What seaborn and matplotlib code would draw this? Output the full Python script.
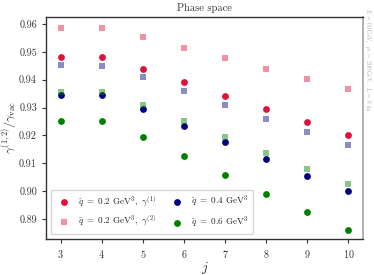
import matplotlib
matplotlib.use("Agg")
import matplotlib.pyplot as plt
import seaborn as sns
import numpy as np

j = [3, 4, 5, 6, 7, 8, 9, 10]
g1_q02 = [0.9482, 0.9481, 0.9440, 0.9392, 0.9343, 0.9295, 0.9247, 0.9202]
g2_q02 = [0.9587, 0.9586, 0.9554, 0.9515, 0.9477, 0.9438, 0.9401, 0.9366]
g1_q04 = [0.9345, 0.9345, 0.9295, 0.9235, 0.9175, 0.9115, 0.9055, 0.9001]
g2_q04 = [0.9453, 0.9450, 0.9409, 0.9360, 0.9309, 0.9260, 0.9213, 0.9166]
g1_q06 = [0.9253, 0.9253, 0.9196, 0.9127, 0.9059, 0.8991, 0.8926, 0.8862]
g2_q06 = [0.9357, 0.9357, 0.9308, 0.9251, 0.9193, 0.9136, 0.9081, 0.9027]

sns.set_style("ticks")
plt.rcParams['font.family'] = 'serif'
plt.rcParams['font.serif'] = ['cmr10', 'DejaVu Serif']
plt.rcParams['mathtext.fontset'] = 'cm'
plt.rcParams['axes.formatter.use_mathtext'] = True

fig = plt.figure(figsize=(3.74, 2.75), dpi=100)
ax = fig.add_axes([0.123, 0.131, 0.848, 0.807])

red = '#e0103a'
navy = '#000080'
green = '#008000'

s_c = 24
s_s = 24
sns.scatterplot(x=j, y=g1_q02, ax=ax, color=red, marker='o', s=s_c, linewidth=0,
                label=r'$\hat{q}\ =\ 0.2\ \mathrm{GeV}^3,\ \gamma^{(1)}$')
sns.scatterplot(x=j, y=g2_q02, ax=ax, color=red, alpha=0.45, marker='s', s=s_s, linewidth=0,
                label=r'$\hat{q}\ =\ 0.2\ \mathrm{GeV}^3,\ \gamma^{(2)}$')
sns.scatterplot(x=j, y=g2_q04, ax=ax, color=navy, alpha=0.45, marker='s', s=s_s, linewidth=0)
sns.scatterplot(x=j, y=g1_q04, ax=ax, color=navy, marker='o', s=s_c, linewidth=0,
                label=r'$\hat{q}\ =\ 0.4\ \mathrm{GeV}^3$')
sns.scatterplot(x=j, y=g2_q06, ax=ax, color=green, alpha=0.45, marker='s', s=s_s, linewidth=0)
sns.scatterplot(x=j, y=g1_q06, ax=ax, color=green, marker='o', s=s_c, linewidth=0,
                label=r'$\hat{q}\ =\ 0.6\ \mathrm{GeV}^3$')

ax.set_xlim(2.64, 10.36)
ax.set_ylim(0.8828, 0.9625)
ax.set_xticks(j)
ax.set_yticks([0.89, 0.90, 0.91, 0.92, 0.93, 0.94, 0.95, 0.96])
ax.set_yticklabels(['0.89', '0.90', '0.91', '0.92', '0.93', '0.94', '0.95', '0.96'])
ax.tick_params(labelsize=7.3, length=3, width=0.8, colors='#333333', labelcolor='#333333')
ax.set_xlabel(r'$j$', fontsize=10, labelpad=0)
ax.set_ylabel(r'$\gamma^{(1,2)}/\gamma_{\mathrm{vac}}$', fontsize=8.7, labelpad=0)
ax.yaxis.set_label_coords(-0.086, 0.5)
ax.set_title('Phase space', fontsize=7.5, pad=4, color='#333333')

for sp in ['left', 'bottom', 'top']:
    ax.spines[sp].set_color('#333333')
    ax.spines[sp].set_linewidth(1.0)
ax.spines['right'].set_color('#aaaaaa')
ax.spines['right'].set_linewidth(1.3)

ax.legend(loc='lower left', ncol=2, fontsize=6.6, frameon=True, framealpha=0.8,
          edgecolor='#cccccc', handletextpad=0.5, columnspacing=1.3,
          borderpad=0.5, labelspacing=0.55, markerscale=1.0)

fig.text(0.984, 0.78, r'$E\ =\ 60\ \mathrm{GeV},\ \ p_t\ =\ 200\ \mathrm{GeV},\ \ L\ =\ 6\ \mathrm{fm}$',
         rotation=270, fontsize=4.0, color='#aaaaaa', ha='center', va='center')

fig.savefig('out.png', dpi=100)
